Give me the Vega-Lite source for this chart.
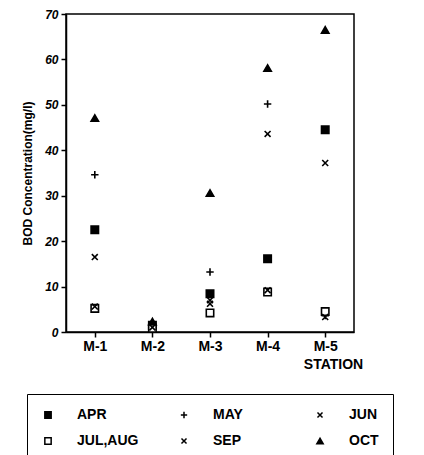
{
  "$schema": "https://vega.github.io/schema/vega-lite/v6.json",
  "width": 288,
  "height": 318,
  "autosize": "none",
  "padding": {"left": 66, "top": 14, "right": 70, "bottom": 123},
  "background": "white",
  "config": {
    "font": "Liberation Sans",
    "view": {"stroke": "black", "strokeWidth": 1.5},
    "axis": {"domainColor": "black", "tickColor": "black", "labelColor": "black", "titleColor": "black", "domainWidth": 1.5, "tickWidth": 1.5, "grid": false},
    "legend": {
      "title": null, "orient": "none", "legendX": -39, "legendY": 380, "direction": "horizontal", "columns": 3,
      "gridAlign": "all", "columnPadding": 38, "rowPadding": 12,
      "labelFontSize": 14, "labelFontWeight": "bold", "labelColor": "black", "labelOffset": 22,
      "symbolSize": 40, "symbolStrokeWidth": 1.5,
      "strokeColor": "black", "padding": 14
    }
  },
  "data": {"values": [
    {"station": "M-1", "month": "APR", "bod": 22.5},
    {"station": "M-1", "month": "MAY", "bod": 34.6},
    {"station": "M-1", "month": "JUN", "bod": 16.5},
    {"station": "M-1", "month": "JUL,AUG", "bod": 5.2},
    {"station": "M-1", "month": "SEP", "bod": 5.6},
    {"station": "M-1", "month": "OCT", "bod": 47.1},
    {"station": "M-2", "month": "APR", "bod": 1.5},
    {"station": "M-2", "month": "MAY", "bod": 1.2},
    {"station": "M-2", "month": "JUN", "bod": 1.0},
    {"station": "M-2", "month": "JUL,AUG", "bod": 0.8},
    {"station": "M-2", "month": "SEP", "bod": 1.0},
    {"station": "M-2", "month": "OCT", "bod": 2.3},
    {"station": "M-3", "month": "APR", "bod": 8.4},
    {"station": "M-3", "month": "MAY", "bod": 13.2},
    {"station": "M-3", "month": "JUN", "bod": 7.0},
    {"station": "M-3", "month": "JUL,AUG", "bod": 4.2},
    {"station": "M-3", "month": "SEP", "bod": 6.2},
    {"station": "M-3", "month": "OCT", "bod": 30.6},
    {"station": "M-4", "month": "APR", "bod": 16.1},
    {"station": "M-4", "month": "MAY", "bod": 50.2},
    {"station": "M-4", "month": "JUN", "bod": 43.6},
    {"station": "M-4", "month": "JUL,AUG", "bod": 8.8},
    {"station": "M-4", "month": "SEP", "bod": 9.2},
    {"station": "M-4", "month": "OCT", "bod": 58.1},
    {"station": "M-5", "month": "APR", "bod": 44.5},
    {"station": "M-5", "month": "MAY", "bod": 3.6},
    {"station": "M-5", "month": "JUN", "bod": 37.2},
    {"station": "M-5", "month": "JUL,AUG", "bod": 4.5},
    {"station": "M-5", "month": "SEP", "bod": 3.3},
    {"station": "M-5", "month": "OCT", "bod": 66.5}
  ]},
  "mark": {"type": "point", "strokeWidth": 1.6, "opacity": 1, "size": 55},
  "encoding": {
    "x": {
      "field": "station", "type": "nominal", "sort": ["M-1", "M-2", "M-3", "M-4", "M-5"],
      "scale": {"type": "point", "padding": 0.5},
      "axis": {
        "title": "STATION", "labelAngle": 0, "labelFontSize": 14, "labelFontWeight": "bold",
        "tickSize": 5, "labelPadding": 2,
        "titleFontSize": 14, "titleFontWeight": "bold", "titleX": 267, "titleY": 25, "titleAlign": "center", "titleBaseline": "top"
      }
    },
    "y": {
      "field": "bod", "type": "quantitative",
      "scale": {"domain": [0, 70], "nice": false},
      "axis": {
        "title": "BOD Concentration(mg/l)", "values": [0, 10, 20, 30, 40, 50, 60, 70],
        "labelFontSize": 12, "labelFontWeight": "bold", "labelFontStyle": "italic", "tickSize": 5, "labelPadding": 3,
        "titleFontSize": 12, "titleFontWeight": "bold", "titlePadding": 10
      }
    },
    "shape": {
      "field": "month", "type": "nominal",
      "sort": ["APR", "MAY", "JUN", "JUL,AUG", "SEP", "OCT"],
      "scale": {
        "domain": ["APR", "MAY", "JUN", "JUL,AUG", "SEP", "OCT"],
        "range": ["square", "M-1,0H1M0,-1V1", "M-0.8,-0.8L0.8,0.8M-0.8,0.8L0.8,-0.8", "square", "M-0.8,-0.8L0.8,0.8M-0.8,0.8L0.8,-0.8", "triangle-up"]
      }
    },
    "fill": {
      "field": "month", "type": "nominal",
      "sort": ["APR", "MAY", "JUN", "JUL,AUG", "SEP", "OCT"],
      "scale": {
        "domain": ["APR", "MAY", "JUN", "JUL,AUG", "SEP", "OCT"],
        "range": ["black", "black", "black", "white", "black", "black"]
      }
    },
    "stroke": {
      "field": "month", "type": "nominal",
      "sort": ["APR", "MAY", "JUN", "JUL,AUG", "SEP", "OCT"],
      "scale": {
        "domain": ["APR", "MAY", "JUN", "JUL,AUG", "SEP", "OCT"],
        "range": ["black", "black", "black", "black", "black", "black"]
      }
    }
  }
}
